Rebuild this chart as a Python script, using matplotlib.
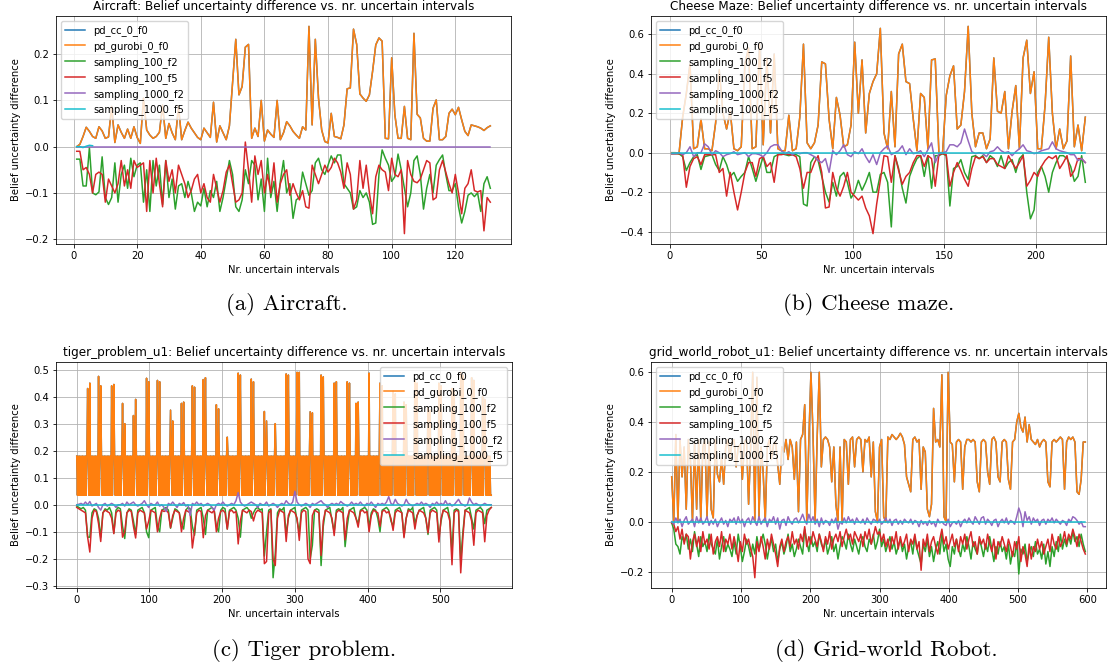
import matplotlib
matplotlib.use("Agg")
import matplotlib.pyplot as plt

# ---------------- data ----------------
labels = ["pd_cc_0_f0", "pd_gurobi_0_f0", "sampling_100_f2",
          "sampling_100_f5", "sampling_1000_f2", "sampling_1000_f5"]
colors = ["tab:blue", "tab:orange", "tab:green", "tab:red", "tab:purple", "tab:cyan"]

# (a) Aircraft, x = 1..131
air_x = list(range(1, 132))
air_pd = [0.0, 0.005, 0.022, 0.042, 0.033, 0.022, 0.018, 0.043, 0.034, 0.018,
          0.021, 0.087, 0.009, 0.047, 0.031, 0.018, 0.038, 0.018, 0.043, 0.02,
          0.007, 0.105, 0.036, 0.025, 0.018, 0.022, 0.031, 0.09, 0.018, 0.05,
          0.03, 0.015, 0.088, 0.015, 0.035, 0.053, 0.04, 0.03, 0.02, 0.015,
          0.04, 0.03, 0.02, 0.096, 0.01, 0.045, 0.03, 0.015, 0.045, 0.14,
          0.232, 0.112, 0.13, 0.215, 0.221, 0.018, 0.04, 0.022, 0.1, 0.012,
          0.036, 0.027, 0.02, 0.1, 0.015, 0.03, 0.054, 0.045, 0.033, 0.025,
          0.018, 0.043, 0.036, 0.26, 0.047, 0.232, 0.105, 0.036, 0.011, 0.008,
          0.072, 0.022, 0.02, 0.017, 0.047, 0.125, 0.127, 0.254, 0.221, 0.114,
          0.105, 0.098, 0.112, 0.163, 0.22, 0.235, 0.228, 0.018, 0.017, 0.192,
          0.069, 0.018, 0.018, 0.087, 0.018, 0.015, 0.245, 0.07, 0.062, 0.018,
          0.012, 0.012, 0.083, 0.101, 0.015, 0.015, 0.022, 0.072, 0.081, 0.069,
          0.085, 0.058, 0.033, 0.024, 0.047, 0.045, 0.043, 0.04, 0.035, 0.041,
          0.045]
air_s100_f2 = [-0.027, -0.027, -0.085, -0.085, -0.002, -0.100, -0.104, -0.098, -0.022, -0.110,
               -0.125, -0.110, -0.035, -0.120, -0.060, -0.040, -0.090, -0.025, -0.065, -0.040,
               -0.035, -0.120, -0.050, -0.140, -0.030, -0.085, -0.040, -0.125, -0.030, -0.110,
               -0.070, -0.135, -0.085, -0.080, -0.110, -0.075, -0.100, -0.140, -0.120, -0.128,
               -0.090, -0.130, -0.095, -0.110, -0.075, -0.140, -0.110, -0.070, -0.030, -0.060,
               -0.130, -0.140, -0.115, -0.050, -0.080, -0.030, -0.040, -0.115, -0.070, -0.140,
               -0.025, -0.110, -0.075, -0.140, -0.075, -0.030, -0.100, -0.080, -0.155, -0.115,
               -0.110, -0.055, -0.080, -0.105, -0.095, -0.035, -0.025, -0.050, -0.060, -0.040,
               -0.020, -0.035, -0.018, -0.018, -0.080, -0.090, -0.100, -0.135, -0.130, -0.095,
               -0.110, -0.100, -0.120, -0.168, -0.165, -0.060, -0.007, -0.025, -0.040, -0.075,
               -0.065, -0.016, -0.050, -0.090, -0.130, -0.100, -0.030, -0.020, -0.060, -0.135,
               -0.090, -0.060, -0.100, -0.040, -0.028, -0.018, -0.060, -0.095, -0.095, -0.080,
               -0.130, -0.165, -0.140, -0.105, -0.100, -0.108, -0.100, -0.140, -0.080, -0.065,
               -0.090]
air_s100_f5 = [-0.010, -0.010, -0.050, -0.045, -0.060, -0.100, -0.060, -0.055, -0.060, -0.120,
               -0.070, -0.085, -0.100, -0.080, -0.030, -0.085, -0.050, -0.090, -0.030, -0.045,
               -0.040, -0.035, -0.140, -0.030, -0.100, -0.025, -0.080, -0.130, -0.030, -0.075,
               -0.050, -0.100, -0.040, -0.060, -0.080, -0.110, -0.095, -0.070, -0.060, -0.100,
               -0.080, -0.110, -0.120, -0.060, -0.090, -0.120, -0.095, -0.055, -0.040, -0.080,
               -0.120, -0.115, -0.100, 0.010, -0.050, -0.120, -0.020, -0.060, -0.030, -0.100,
               -0.060, -0.100, -0.035, -0.120, -0.080, -0.060, -0.050, -0.105, -0.080, -0.100,
               -0.115, -0.095, -0.130, -0.133, -0.040, -0.060, -0.080, -0.060, -0.040, -0.055,
               -0.045, -0.025, -0.035, -0.055, -0.090, -0.035, -0.060, -0.135, -0.115, -0.030,
               -0.090, -0.040, -0.100, -0.145, -0.065, -0.040, -0.050, -0.055, -0.095, -0.025,
               -0.060, -0.065, -0.050, -0.188, -0.030, -0.060, -0.075, -0.078, -0.070, -0.050,
               -0.030, -0.035, -0.115, -0.110, -0.050, -0.030, -0.055, -0.080, -0.100, -0.060,
               -0.100, -0.145, -0.090, -0.080, -0.050, -0.095, -0.098, -0.095, -0.182, -0.110,
               -0.120]
air_s1000_f2 = [0.0] * 131
air_f5_x = [1, 2, 3, 4, 5, 6]
air_s1000_f5 = [0.0, 0.0, -0.002, 0.001, 0.003, 0.002]

# (b) Cheese maze, x = 1, 3, ..., 227
cheese_x = list(range(1, 228, 2))
cheese_pd = [0.0, 0.0, -0.005, 0.18, 0.3, 0.45, 0.02, 0.03, 0.17, 0.02,
             0.02, 0.01, 0.15, 0.42, 0.2, 0.12, 0.21, 0.02, 0.01, 0.03,
             0.45, 0.53, 0.02, 0.03, 0.55, 0.04, 0.48, 0.1, 0.5, 0.02,
             0.01, 0.01, 0.19, 0.01, 0.02, 0.18, 0.55, 0.05, 0.02, 0.05,
             0.14, 0.46, 0.45, 0.17, 0.02, 0.28, 0.19, 0.03, 0.04, 0.14,
             0.56, 0.2, 0.47, 0.1, 0.3, 0.36, 0.4, 0.63, 0.1, 0.02,
             0.31, 0.03, 0.5, 0.55, 0.36, 0.35, 0.17, 0.01, 0.3, 0.28,
             0.02, 0.47, 0.475, 0.0, 0.0, 0.29, 0.39, 0.44, 0.12, 0.14,
             0.31, 0.64, 0.2, 0.03, 0.1, 0.1, 0.02, 0.07, 0.48, 0.21,
             0.2, 0.31, 0.02, 0.21, 0.34, 0.02, 0.48, 0.57, 0.3, 0.41,
             0.02, 0.02, 0.24, 0.585, 0.2, 0.02, 0.12, 0.02, 0.06, 0.49,
             0.03, 0.14, 0.01, 0.18]
cheese_s100_f2 = [-0.005, -0.005, -0.005, -0.02, -0.09, -0.05, -0.02, -0.01, -0.085, -0.02,
                  -0.015, -0.01, -0.06, -0.09, -0.02, -0.06, -0.12, -0.1, -0.145, -0.12,
                  -0.1, -0.02, -0.08, -0.145, -0.08, -0.02, -0.1, -0.1, -0.02, -0.01,
                  -0.005, -0.01, -0.015, -0.01, -0.01, -0.02, -0.26, -0.27, -0.05, -0.02,
                  -0.04, -0.12, -0.2, -0.25, -0.15, -0.22, -0.12, -0.1, -0.15, -0.23,
                  -0.2, -0.14, -0.19, -0.15, -0.1, -0.2, -0.2, -0.11, -0.1, -0.15,
                  -0.376, -0.015, -0.08, -0.18, -0.255, -0.12, -0.07, -0.03, -0.015, -0.12,
                  -0.015, -0.18, -0.015, -0.015, -0.005, -0.015, -0.27, -0.08, -0.07, -0.035,
                  -0.1, -0.135, -0.02, -0.015, -0.03, -0.015, -0.05, -0.015, -0.03, -0.07,
                  -0.015, -0.08, -0.05, -0.035, -0.1, -0.03, -0.01, -0.2, -0.335, -0.29,
                  -0.1, -0.07, -0.12, -0.2, -0.1, -0.05, -0.015, -0.015, -0.03, -0.07,
                  -0.145, -0.12, -0.015, -0.15]
cheese_s100_f5 = [-0.005, -0.005, -0.005, -0.01, -0.175, -0.07, -0.03, -0.02, -0.06, -0.01,
                  -0.01, -0.01, -0.01, -0.1, -0.08, -0.22, -0.1, -0.2, -0.29, -0.2,
                  -0.1, -0.05, -0.05, -0.12, -0.03, -0.02, -0.07, -0.05, -0.15, -0.01,
                  -0.01, -0.005, -0.01, -0.01, -0.02, -0.08, -0.18, -0.1, -0.1, -0.05,
                  -0.015, -0.1, -0.28, -0.275, -0.1, -0.18, -0.22, -0.17, -0.1, -0.2,
                  -0.22, -0.24, -0.22, -0.28, -0.32, -0.41, -0.26, -0.14, -0.015, -0.02,
                  -0.15, -0.015, -0.09, -0.16, -0.12, -0.1, -0.05, -0.015, -0.015, -0.07,
                  -0.015, -0.03, -0.17, -0.01, -0.005, -0.01, -0.17, -0.1, -0.05, -0.09,
                  -0.135, -0.17, -0.08, -0.02, -0.03, -0.02, -0.05, -0.03, -0.03, -0.06,
                  -0.07, -0.08, -0.015, -0.05, -0.08, -0.05, -0.015, -0.17, -0.14, -0.1,
                  -0.12, -0.07, -0.04, -0.02, -0.03, -0.015, -0.08, -0.05, -0.015, -0.12,
                  -0.09, -0.03, -0.03, -0.05]
cheese_s1000_f2 = [-0.005, -0.005, 0.0, -0.01, 0.0, 0.03, -0.02, 0.0, 0.0, 0.045,
                   0.03, -0.01, 0.01, 0.0, -0.02, -0.01, -0.005, 0.005, -0.01, -0.005,
                   0.0, -0.02, -0.005, -0.005, -0.01, -0.02, 0.0, 0.03, 0.04, 0.04,
                   0.01, -0.005, 0.005, -0.01, 0.0, -0.005, 0.0, 0.0, -0.01, -0.02,
                   -0.04, -0.05, -0.03, -0.1, 0.01, -0.01, 0.01, 0.04, -0.01, -0.02,
                   0.005, -0.005, 0.02, -0.02, -0.05, -0.01, -0.06, 0.0, 0.02, 0.035,
                   -0.01, 0.0, 0.01, 0.035, -0.01, 0.02, -0.005, 0.0, 0.01, -0.02,
                   0.015, 0.05, -0.05, -0.005, 0.0, 0.005, 0.04, 0.04, 0.03, 0.05,
                   0.12, 0.06, 0.005, -0.005, 0.0, -0.005, -0.02, 0.005, 0.01, 0.03,
                   0.01, 0.0, 0.005, -0.015, 0.005, 0.02, 0.04, 0.01, 0.005, -0.005,
                   0.0, 0.01, 0.015, 0.02, 0.055, 0.02, 0.01, 0.005, 0.0, -0.01,
                   -0.01, -0.04, -0.03, -0.05]
cheese_s1000_f5 = [0.0] * 114

# (c) Tiger problem: pd values at every interval 0..570, sampling every 3rd
tiger_pd_x = list(range(0, 571))
tiger_pd = [
    0.18, 0.035, 0.18, 0.035, 0.18, 0.035, 0.18, 0.035, 0.18, 0.035,  # 0
    0.18, 0.035, 0.18, 0.035, 0.18, 0.43, 0.18, 0.035, 0.45, 0.035,
    0.18, 0.035, 0.18, 0.035, 0.18, 0.035, 0.18, 0.035, 0.18, 0.035,
    0.475, 0.035, 0.18, 0.44, 0.18, 0.035, 0.18, 0.035, 0.18, 0.035,
    0.18, 0.035, 0.18, 0.035, 0.18, 0.035, 0.18, 0.035, 0.44, 0.035,
    0.18, 0.445, 0.18, 0.035, 0.18, 0.035, 0.18, 0.035, 0.18, 0.035,  # 50
    0.18, 0.035, 0.18, 0.375, 0.18, 0.035, 0.3, 0.035, 0.18, 0.035,
    0.18, 0.035, 0.18, 0.035, 0.18, 0.035, 0.18, 0.035, 0.33, 0.035,
    0.18, 0.39, 0.18, 0.035, 0.18, 0.035, 0.18, 0.035, 0.18, 0.035,
    0.18, 0.035, 0.18, 0.035, 0.18, 0.035, 0.468, 0.035, 0.18, 0.455,
    0.18, 0.035, 0.18, 0.035, 0.18, 0.035, 0.18, 0.035, 0.18, 0.035,  # 100
    0.18, 0.46, 0.18, 0.035, 0.455, 0.035, 0.18, 0.035, 0.18, 0.035,
    0.18, 0.035, 0.18, 0.035, 0.18, 0.035, 0.18, 0.035, 0.18, 0.35,
    0.18, 0.035, 0.31, 0.035, 0.18, 0.035, 0.18, 0.035, 0.18, 0.035,
    0.18, 0.035, 0.18, 0.035, 0.375, 0.035, 0.18, 0.38, 0.18, 0.035,
    0.18, 0.035, 0.18, 0.035, 0.18, 0.035, 0.18, 0.035, 0.18, 0.44,  # 150
    0.18, 0.035, 0.435, 0.035, 0.18, 0.035, 0.18, 0.035, 0.18, 0.035,
    0.18, 0.035, 0.18, 0.035, 0.463, 0.035, 0.18, 0.47, 0.18, 0.035,
    0.18, 0.035, 0.18, 0.035, 0.18, 0.035, 0.18, 0.035, 0.18, 0.035,
    0.18, 0.035, 0.37, 0.035, 0.18, 0.355, 0.18, 0.035, 0.18, 0.035,
    0.18, 0.035, 0.18, 0.035, 0.18, 0.035, 0.18, 0.25, 0.18, 0.035,  # 200
    0.18, 0.035, 0.18, 0.035, 0.18, 0.035, 0.18, 0.035, 0.18, 0.035,
    0.18, 0.035, 0.487, 0.035, 0.18, 0.48, 0.18, 0.035, 0.18, 0.035,
    0.18, 0.035, 0.18, 0.035, 0.18, 0.035, 0.18, 0.035, 0.18, 0.035,
    0.465, 0.035, 0.18, 0.455, 0.18, 0.035, 0.18, 0.035, 0.18, 0.035,
    0.18, 0.035, 0.18, 0.035, 0.18, 0.035, 0.18, 0.035, 0.345, 0.035,  # 250
    0.18, 0.31, 0.18, 0.035, 0.18, 0.035, 0.18, 0.035, 0.18, 0.035,
    0.18, 0.035, 0.18, 0.3, 0.18, 0.035, 0.18, 0.035, 0.18, 0.035,
    0.18, 0.035, 0.18, 0.035, 0.18, 0.035, 0.18, 0.035, 0.484, 0.035,
    0.18, 0.48, 0.18, 0.035, 0.18, 0.035, 0.18, 0.035, 0.18, 0.035,
    0.18, 0.035, 0.18, 0.49, 0.18, 0.035, 0.49, 0.035, 0.18, 0.035,  # 300
    0.18, 0.035, 0.18, 0.035, 0.18, 0.035, 0.18, 0.035, 0.18, 0.035,
    0.18, 0.344, 0.18, 0.035, 0.34, 0.035, 0.18, 0.035, 0.18, 0.035,
    0.18, 0.035, 0.18, 0.035, 0.18, 0.035, 0.48, 0.035, 0.18, 0.473,
    0.18, 0.035, 0.18, 0.035, 0.18, 0.035, 0.18, 0.035, 0.18, 0.035,
    0.18, 0.035, 0.18, 0.035, 0.45, 0.035, 0.18, 0.455, 0.18, 0.035,  # 350
    0.18, 0.035, 0.18, 0.035, 0.18, 0.035, 0.18, 0.035, 0.18, 0.035,
    0.18, 0.035, 0.455, 0.035, 0.18, 0.45, 0.18, 0.035, 0.18, 0.035,
    0.18, 0.035, 0.18, 0.035, 0.375, 0.035, 0.18, 0.38, 0.18, 0.035,
    0.18, 0.035, 0.18, 0.035, 0.18, 0.035, 0.18, 0.035, 0.18, 0.035,
    0.18, 0.035, 0.487, 0.035, 0.18, 0.035, 0.18, 0.035, 0.18, 0.035,  # 400
    0.18, 0.035, 0.18, 0.035, 0.18, 0.035, 0.18, 0.45, 0.18, 0.035,
    0.44, 0.035, 0.18, 0.035, 0.18, 0.035, 0.18, 0.035, 0.18, 0.035,
    0.18, 0.035, 0.18, 0.035, 0.18, 0.42, 0.18, 0.035, 0.41, 0.035,
    0.18, 0.035, 0.18, 0.035, 0.18, 0.035, 0.18, 0.035, 0.18, 0.035,
    0.38, 0.035, 0.18, 0.37, 0.18, 0.035, 0.18, 0.035, 0.18, 0.035,  # 450
    0.18, 0.035, 0.18, 0.035, 0.18, 0.46, 0.18, 0.035, 0.45, 0.035,
    0.18, 0.035, 0.18, 0.035, 0.18, 0.035, 0.18, 0.035, 0.18, 0.035,
    0.18, 0.035, 0.18, 0.36, 0.18, 0.035, 0.35, 0.035, 0.18, 0.035,
    0.18, 0.035, 0.18, 0.035, 0.18, 0.035, 0.18, 0.035, 0.45, 0.035,
    0.18, 0.44, 0.18, 0.035, 0.18, 0.035, 0.18, 0.035, 0.18, 0.035,  # 500
    0.18, 0.035, 0.18, 0.035, 0.18, 0.035, 0.43, 0.035, 0.18, 0.42,
    0.18, 0.035, 0.18, 0.035, 0.18, 0.035, 0.18, 0.035, 0.49, 0.035,
    0.18, 0.48, 0.18, 0.035, 0.18, 0.035, 0.18, 0.035, 0.18, 0.035,
    0.18, 0.035, 0.18, 0.47, 0.18, 0.035, 0.46, 0.035, 0.18, 0.035,
    0.18, 0.035, 0.18, 0.035, 0.18, 0.035, 0.18, 0.035, 0.4, 0.035,  # 550
    0.18, 0.39, 0.18, 0.035, 0.18, 0.035, 0.18, 0.035, 0.18, 0.035,
    0.035]
tiger_x = list(range(0, 571, 3))
tiger_s100_f2 = [-0.005, -0.01, -0.015, -0.01, -0.02, -0.12, -0.12, -0.03, -0.015, -0.02,
                 -0.05, -0.12, -0.03, -0.015, -0.02, -0.01, -0.03, -0.105, -0.02, -0.01,
                 -0.015, -0.08, -0.125, -0.03, -0.015, -0.02, -0.06, -0.11, -0.02, -0.015,
                 -0.01, -0.03, -0.1, -0.122, -0.02, -0.015, -0.01, -0.08, -0.1, -0.02,
                 -0.015, -0.01, -0.02, -0.087, -0.05, -0.015, -0.02, -0.03, -0.07, -0.09,
                 -0.02, -0.01, -0.015, -0.08, -0.113, -0.02, -0.015, -0.01, -0.05, -0.11,
                 -0.02, -0.015, -0.01, -0.02, -0.08, -0.1, -0.02, -0.01, -0.015, -0.09,
                 -0.02, -0.015, -0.01, -0.02, -0.05, -0.12, -0.02, -0.015, -0.01, -0.02,
                 -0.05, -0.03, -0.015, -0.01, -0.02, -0.015, -0.19, -0.1, -0.02, -0.015,
                 -0.27, -0.18, -0.03, -0.015, -0.02, -0.01, -0.11, -0.05, -0.02, -0.015,
                 -0.01, -0.06, -0.1, -0.02, -0.015, -0.01, -0.02, -0.2, -0.15, -0.02,
                 -0.015, -0.02, -0.225, -0.08, -0.02, -0.015, -0.01, -0.06, -0.1, -0.02,
                 -0.015, -0.02, -0.01, -0.155, -0.08, -0.02, -0.015, -0.01, -0.05, -0.07,
                 -0.02, -0.015, -0.01, -0.02, -0.08, -0.03, -0.015, -0.02, -0.05, -0.1,
                 -0.02, -0.015, -0.01, -0.02, -0.06, -0.08, -0.02, -0.015, -0.01, -0.03,
                 -0.117, -0.05, -0.015, -0.02, -0.01, -0.07, -0.04, -0.02, -0.015, -0.01,
                 -0.05, -0.11, -0.02, -0.015, -0.01, -0.02, -0.12, -0.06, -0.02, -0.015,
                 -0.01, -0.05, -0.175, -0.02, -0.015, -0.02, -0.206, -0.1, -0.02, -0.015,
                 -0.01, -0.05, -0.09, -0.02, -0.015, -0.01, -0.02, -0.07, -0.02, -0.015,
                 -0.01]
tiger_s100_f5 = [-0.01, -0.015, -0.02, -0.025, -0.03, -0.12, -0.175, -0.05, -0.02, -0.025,
                 -0.07, -0.136, -0.03, -0.02, -0.025, -0.03, -0.05, -0.107, -0.03, -0.02,
                 -0.025, -0.12, -0.1, -0.03, -0.02, -0.025, -0.08, -0.123, -0.03, -0.02,
                 -0.025, -0.03, -0.09, -0.06, -0.02, -0.025, -0.03, -0.1, -0.05, -0.02,
                 -0.025, -0.02, -0.03, -0.085, -0.04, -0.02, -0.025, -0.03, -0.1, -0.05,
                 -0.02, -0.025, -0.03, -0.16, -0.1, -0.03, -0.02, -0.025, -0.122, -0.04,
                 -0.02, -0.025, -0.03, -0.02, -0.1, -0.05, -0.025, -0.02, -0.03, -0.09,
                 -0.025, -0.02, -0.03, -0.025, -0.145, -0.06, -0.02, -0.025, -0.03, -0.02,
                 -0.025, -0.06, -0.03, -0.02, -0.025, -0.03, -0.218, -0.21, -0.03, -0.02,
                 -0.2, -0.225, -0.05, -0.02, -0.025, -0.03, -0.136, -0.04, -0.02, -0.025,
                 -0.03, -0.05, -0.132, -0.03, -0.02, -0.025, -0.2, -0.218, -0.04, -0.02,
                 -0.025, -0.03, -0.188, -0.06, -0.02, -0.025, -0.03, -0.05, -0.114, -0.03,
                 -0.02, -0.025, -0.03, -0.13, -0.05, -0.02, -0.025, -0.03, -0.05, -0.083,
                 -0.025, -0.02, -0.03, -0.025, -0.1, -0.04, -0.02, -0.025, -0.03, -0.08,
                 -0.025, -0.02, -0.03, -0.025, -0.05, -0.095, -0.03, -0.02, -0.025, -0.03,
                 -0.122, -0.05, -0.02, -0.025, -0.03, -0.09, -0.04, -0.02, -0.025, -0.03,
                 -0.05, -0.104, -0.03, -0.02, -0.025, -0.03, -0.138, -0.05, -0.02, -0.025,
                 -0.03, -0.06, -0.222, -0.03, -0.02, -0.025, -0.252, -0.12, -0.02, -0.025,
                 -0.03, -0.06, -0.15, -0.03, -0.02, -0.025, -0.03, -0.137, -0.04, -0.02,
                 -0.01]
tiger_s1000_f2 = [0.0, 0.002, 0.005, 0.0, 0.01, 0.0, 0.012, -0.005, 0.0, 0.005,
                  -0.01, -0.02, 0.0, 0.005, -0.005, 0.0, 0.005, 0.0, -0.01, 0.0,
                  0.0, 0.005, -0.005, 0.01, 0.0, 0.005, 0.01, 0.0, -0.005, 0.0,
                  0.005, 0.015, 0.0, -0.01, 0.005, 0.0, 0.0, 0.01, -0.005, 0.0,
                  -0.01, -0.025, 0.005, 0.0, 0.01, 0.0, -0.01, 0.005, 0.0, 0.008,
                  -0.005, 0.0, -0.04, 0.005, 0.0, 0.01, 0.0, 0.005, -0.005, 0.0,
                  0.005, 0.0, -0.01, -0.02, 0.0, 0.005, 0.0, 0.01, 0.0, -0.005,
                  0.0, 0.005, 0.0, 0.015, 0.045, 0.01, 0.0, -0.005, 0.0, 0.005,
                  0.01, 0.005, 0.0, -0.01, 0.005, 0.0, 0.0, 0.01, -0.005, 0.0,
                  0.005, 0.0, -0.01, 0.0, 0.005, 0.0, 0.015, 0.005, 0.0, 0.01,
                  0.05, 0.01, 0.0, -0.005, 0.0, 0.005, 0.0, -0.01, 0.005, 0.0,
                  0.005, 0.01, 0.015, 0.005, 0.0, -0.01, 0.0, 0.005, 0.0, 0.005,
                  0.0, 0.012, 0.005, 0.0, -0.005, 0.0, 0.01, 0.0, 0.005, 0.0,
                  0.01, 0.0, -0.005, 0.005, 0.0, 0.01, 0.0, -0.01, 0.005, 0.0,
                  0.005, 0.0, 0.01, 0.03, 0.005, 0.0, 0.02, 0.005, 0.0, -0.005,
                  0.0, 0.02, 0.005, 0.0, -0.005, 0.0, 0.005, 0.0, 0.01, 0.0,
                  0.005, 0.0, -0.01, 0.005, 0.0, 0.01, 0.0, 0.005, 0.0, 0.015,
                  0.0, 0.005, -0.005, 0.0, 0.01, 0.02, 0.005, 0.0, -0.005, 0.0,
                  0.025, 0.01, 0.0, 0.005, 0.0, -0.005, 0.0, 0.005, 0.0, 0.0,
                  0.0]
tiger_s1000_f5 = [0.0] * 191

# (d) Grid-world robot, x = 0, 3, ..., 597
grid_x = list(range(0, 598, 3))
grid_pd = [0.18, 0.0, 0.35, 0.0, 0.33, 0.18, 0.3, 0.05, 0.33, 0.25,
           0.0, 0.32, 0.05, 0.33, 0.0, 0.3, 0.33, 0.02, 0.32, 0.05,
           0.015, 0.33, 0.19, 0.16, 0.255, 0.15, 0.3, 0.33, 0.25, 0.32,
           0.33, 0.22, 0.3, 0.31, 0.17, 0.32, 0.33, 0.07, 0.3, 0.6,
           0.0, 0.58, 0.02, 0.3, 0.2, 0.0, 0.3, 0.33, 0.25, 0.31,
           0.32, 0.23, 0.15, 0.3, 0.28, 0.33, 0.25, 0.33, 0.3, 0.17,
           0.32, 0.04, 0.33, 0.35, 0.47, 0.0, 0.33, 0.6, 0.35, 0.0,
           0.34, 0.6, 0.22, 0.33, 0.34, 0.33, 0.3, 0.16, 0.3, 0.07,
           0.0, 0.3, 0.0, 0.33, 0.32, 0.15, 0.33, 0.34, 0.22, 0.33,
           0.34, 0.33, 0.2, 0.33, 0.32, 0.34, 0.18, 0.32, 0.04, 0.0,
           0.3, 0.33, 0.02, 0.0, 0.34, 0.33, 0.35, 0.34, 0.33, 0.34,
           0.355, 0.34, 0.31, 0.18, 0.15, 0.12, 0.33, 0.34, 0.32, 0.33,
           0.13, 0.3, 0.28, 0.05, 0.02, 0.07, 0.455, 0.32, 0.33, 0.3,
           0.59, 0.02, 0.0, 0.6, 0.32, 0.31, 0.16, 0.32, 0.33, 0.32,
           0.13, 0.3, 0.33, 0.33, 0.32, 0.33, 0.32, 0.16, 0.12, 0.32,
           0.33, 0.32, 0.2, 0.15, 0.33, 0.34, 0.32, 0.18, 0.16, 0.32,
           0.33, 0.32, 0.17, 0.13, 0.32, 0.33, 0.4, 0.435, 0.38, 0.36,
           0.42, 0.32, 0.39, 0.33, 0.32, 0.31, 0.33, 0.3, 0.32, 0.33,
           0.32, 0.16, 0.14, 0.32, 0.33, 0.32, 0.33, 0.34, 0.33, 0.13,
           0.32, 0.34, 0.33, 0.34, 0.32, 0.12, 0.11, 0.17, 0.32, 0.32]
grid_s100_f2 = [-0.005, -0.03, -0.09, -0.1, -0.13, -0.06, -0.08, -0.05, -0.11, -0.07,
                -0.12, -0.04, -0.09, -0.14, -0.06, -0.1, -0.08, -0.12, -0.05, -0.09,
                -0.11, -0.13, -0.07, -0.15, -0.1, -0.06, -0.12, -0.09, -0.11, -0.14,
                -0.08, -0.13, -0.05, -0.1, -0.16, -0.12, -0.07, -0.1, -0.14, -0.09,
                -0.13, -0.06, -0.11, -0.08, -0.05, -0.09, -0.15, -0.1, -0.07, -0.12,
                -0.09, -0.16, -0.11, -0.08, -0.13, -0.1, -0.05, -0.12, -0.09, -0.14,
                -0.11, -0.07, -0.1, -0.13, -0.03, -0.08, -0.12, -0.06, -0.1, -0.08,
                -0.12, -0.05, -0.09, -0.11, -0.07, -0.13, -0.1, -0.06, -0.12, -0.09,
                -0.15, -0.1, -0.06, -0.08, -0.11, -0.05, -0.09, -0.12, -0.07, -0.1,
                -0.13, -0.08, -0.06, -0.1, -0.12, -0.07, -0.09, -0.05, -0.11, -0.08,
                -0.03, -0.1, -0.07, -0.12, -0.09, -0.06, -0.11, -0.08, -0.13, -0.1,
                -0.07, -0.12, -0.09, -0.15, -0.1, -0.08, -0.13, -0.06, -0.11, -0.14,
                -0.17, -0.09, -0.12, -0.07, -0.14, -0.1, -0.16, -0.11, -0.08, -0.13,
                -0.05, -0.12, -0.09, -0.15, -0.18, -0.1, -0.13, -0.07, -0.11, -0.14,
                -0.09, -0.12, -0.06, -0.1, -0.15, -0.08, -0.11, -0.13, -0.07, -0.1,
                -0.14, -0.09, -0.12, -0.06, -0.11, -0.16, -0.1, -0.13, -0.08, -0.12,
                -0.1, -0.15, -0.09, -0.17, -0.12, -0.14, -0.08, -0.21, -0.11, -0.13,
                -0.09, -0.16, -0.12, -0.1, -0.14, -0.08, -0.13, -0.11, -0.15, -0.09,
                -0.17, -0.12, -0.18, -0.1, -0.14, -0.08, -0.12, -0.05, -0.11, -0.07,
                -0.1, -0.06, -0.09, -0.04, -0.08, -0.06, -0.1, -0.05, -0.09, -0.12]
grid_s100_f5 = [-0.005, -0.01, -0.04, -0.02, -0.07, -0.03, -0.09, -0.05, -0.06, -0.15,
                -0.08, -0.05, -0.1, -0.06, -0.12, -0.04, -0.09, -0.07, -0.11, -0.05,
                -0.13, -0.08, -0.06, -0.1, -0.04, -0.12, -0.07, -0.09, -0.05, -0.11,
                -0.06, -0.1, -0.16, -0.08, -0.12, -0.05, -0.09, -0.07, -0.11, -0.14,
                -0.225, -0.08, -0.12, -0.06, -0.1, -0.15, -0.07, -0.11, -0.05, -0.09,
                -0.13, -0.18, -0.1, -0.07, -0.12, -0.08, -0.06, -0.1, -0.04, -0.09,
                -0.07, -0.11, -0.05, -0.08, -0.02, -0.1, -0.06, -0.09, -0.04, -0.07,
                -0.1, -0.05, -0.08, -0.12, -0.06, -0.09, -0.04, -0.11, -0.07, -0.05,
                -0.08, -0.04, -0.1, -0.06, -0.03, -0.07, -0.05, -0.09, -0.04, -0.06,
                -0.08, -0.05, -0.1, -0.04, -0.07, -0.03, -0.09, -0.06, -0.02, -0.05,
                -0.04, -0.08, -0.05, -0.1, -0.07, -0.12, -0.06, -0.09, -0.04, -0.11,
                -0.06, -0.1, -0.08, -0.05, -0.12, -0.07, -0.09, -0.05, -0.11, -0.08,
                -0.195, -0.07, -0.1, -0.05, -0.12, -0.08, -0.06, -0.1, -0.13, -0.07,
                -0.03, -0.09, -0.06, -0.11, -0.08, -0.05, -0.1, -0.07, -0.12, -0.06,
                -0.09, -0.05, -0.11, -0.07, -0.04, -0.1, -0.08, -0.13, -0.06, -0.09,
                -0.07, -0.11, -0.05, -0.09, -0.12, -0.07, -0.15, -0.08, -0.1, -0.06,
                -0.09, -0.12, -0.07, -0.1, -0.14, -0.08, -0.11, -0.06, -0.16, -0.1,
                -0.13, -0.18, -0.09, -0.15, -0.1, -0.12, -0.07, -0.11, -0.08, -0.13,
                -0.1, -0.07, -0.12, -0.05, -0.09, -0.11, -0.06, -0.1, -0.08, -0.04,
                -0.09, -0.05, -0.07, -0.03, -0.06, -0.1, -0.05, -0.08, -0.11, -0.13]
grid_s1000_f2 = [0.0, -0.01, 0.015, -0.005, 0.01, -0.02, 0.005, 0.02, -0.01, 0.0,
                 0.01, -0.02, 0.02, -0.005, 0.015, -0.01, 0.0, 0.02, -0.015, 0.005,
                 -0.01, 0.01, -0.02, 0.0, 0.015, -0.01, 0.005, -0.02, 0.01, 0.0,
                 0.015, -0.01, 0.02, -0.005, 0.01, -0.02, 0.005, 0.015, -0.01, 0.02,
                 0.0, -0.015, 0.02, -0.01, 0.005, 0.015, -0.02, 0.01, 0.0, 0.02,
                 -0.01, 0.015, -0.03, 0.005, 0.01, -0.015, 0.02, 0.0, -0.01, 0.01,
                 0.015, -0.005, 0.01, 0.03, 0.005, -0.01, 0.03, 0.0, 0.02, -0.01,
                 0.01, -0.02, 0.015, -0.01, 0.005, 0.0, -0.015, 0.01, -0.005, 0.015,
                 -0.03, 0.0, -0.01, 0.015, -0.005, 0.02, 0.0, 0.01, -0.01, 0.015,
                 0.0, -0.005, 0.01, -0.01, 0.015, 0.0, -0.01, 0.01, 0.005, -0.005,
                 0.01, -0.01, 0.0, 0.015, -0.005, 0.01, -0.015, 0.005, 0.01, -0.01,
                 0.005, -0.01, 0.01, 0.0, -0.005, 0.01, -0.01, 0.005, 0.0, -0.02,
                 0.005, -0.01, 0.0, -0.015, 0.005, -0.01, 0.0, -0.02, 0.01, -0.005,
                 0.0, -0.01, -0.015, 0.01, -0.02, -0.005, 0.0, -0.01, 0.005, -0.02,
                 0.0, 0.01, -0.005, 0.015, 0.0, -0.01, 0.02, 0.005, -0.01, 0.015,
                 0.02, -0.01, 0.01, 0.0, -0.015, 0.005, 0.01, -0.02, 0.0, 0.01,
                 -0.005, 0.015, -0.01, 0.005, 0.0, -0.01, 0.02, 0.055, 0.03, -0.02,
                 0.04, 0.005, 0.02, -0.01, 0.015, 0.0, 0.01, -0.015, 0.005, 0.01,
                 -0.01, 0.01, 0.0, 0.015, -0.005, 0.01, 0.0, -0.01, 0.005, 0.0,
                 -0.015, 0.01, 0.0, 0.02, 0.015, 0.005, -0.01, 0.0, -0.02, -0.02]
grid_s1000_f5 = [0.0] * 200

# ---------------- style ----------------
S = 0.72  # each panel is a shrunken default matplotlib figure
plt.rcParams.update({
    "font.size": 10 * S,
    "axes.titlesize": 12 * S,
    "axes.labelsize": 10 * S,
    "xtick.labelsize": 10 * S,
    "ytick.labelsize": 10 * S,
    "legend.fontsize": 10 * S,
    "lines.linewidth": 1.5 * S,
    "axes.linewidth": 0.8 * S,
    "grid.linewidth": 0.8 * S,
    "xtick.major.width": 0.8 * S,
    "ytick.major.width": 0.8 * S,
    "xtick.major.size": 3.5 * S,
    "ytick.major.size": 3.5 * S,
    "xtick.major.pad": 3.5 * S,
    "ytick.major.pad": 3.5 * S,
    "axes.titlepad": 6 * S,
    "axes.labelpad": 4 * S,
})

W, H = 1116, 669
fig = plt.figure(figsize=(W / 100, H / 100), dpi=100)


def place(l, t, r, b):
    return fig.add_axes([l / W, 1 - b / H, (r - l) / W, (b - t) / H])


def panel(ax, title, series, loc):
    for (xs, ys), lab, c in zip(series, labels, colors):
        ax.plot(xs, ys, color=c, label=lab)
    ax.set_title(title)
    ax.set_xlabel("Nr. uncertain intervals")
    ax.set_ylabel("Belief uncertainty difference")
    ax.grid(True)
    ax.legend(loc=loc)


ax = place(56, 16, 511, 244)
panel(ax, "Aircraft: Belief uncertainty difference vs. nr. uncertain intervals",
      [(air_x, air_pd), (air_x, air_pd), (air_x, air_s100_f2), (air_x, air_s100_f5),
       (air_x, air_s1000_f2), (air_f5_x, air_s1000_f5)], "upper left")

ax = place(651, 16, 1106, 244)
panel(ax, "Cheese Maze: Belief uncertainty difference vs. nr. uncertain intervals",
      [(cheese_x, cheese_pd), (cheese_x, cheese_pd), (cheese_x, cheese_s100_f2),
       (cheese_x, cheese_s100_f5), (cheese_x, cheese_s1000_f2),
       (cheese_x, cheese_s1000_f5)], "upper left")

ax = place(56, 362, 512, 588)
panel(ax, "tiger_problem_u1: Belief uncertainty difference vs. nr. uncertain intervals",
      [(tiger_pd_x, tiger_pd), (tiger_pd_x, tiger_pd), (tiger_x, tiger_s100_f2),
       (tiger_x, tiger_s100_f5), (tiger_x, tiger_s1000_f2),
       (tiger_x, tiger_s1000_f5)], "upper right")

ax = place(651, 362, 1106, 588)
panel(ax, "grid_world_robot_u1: Belief uncertainty difference vs. nr. uncertain intervals",
      [(grid_x, grid_pd), (grid_x, grid_pd), (grid_x, grid_s100_f2),
       (grid_x, grid_s100_f5), (grid_x, grid_s1000_f2),
       (grid_x, grid_s1000_f5)], "upper left")

# sub-figure captions
cap = dict(ha="center", va="center", family="cmr10", fontsize=16.5)
fig.text(287 / W, 1 - 305 / H, "(a) Aircraft.", **cap)
fig.text(869 / W, 1 - 305 / H, "(b) Cheese maze.", **cap)
fig.text(304 / W, 1 - 651 / H, "(c) Tiger problem.", **cap)
fig.text(886 / W, 1 - 651 / H, "(d) Grid-world Robot.", **cap)

fig.savefig("out.png", dpi=100)
